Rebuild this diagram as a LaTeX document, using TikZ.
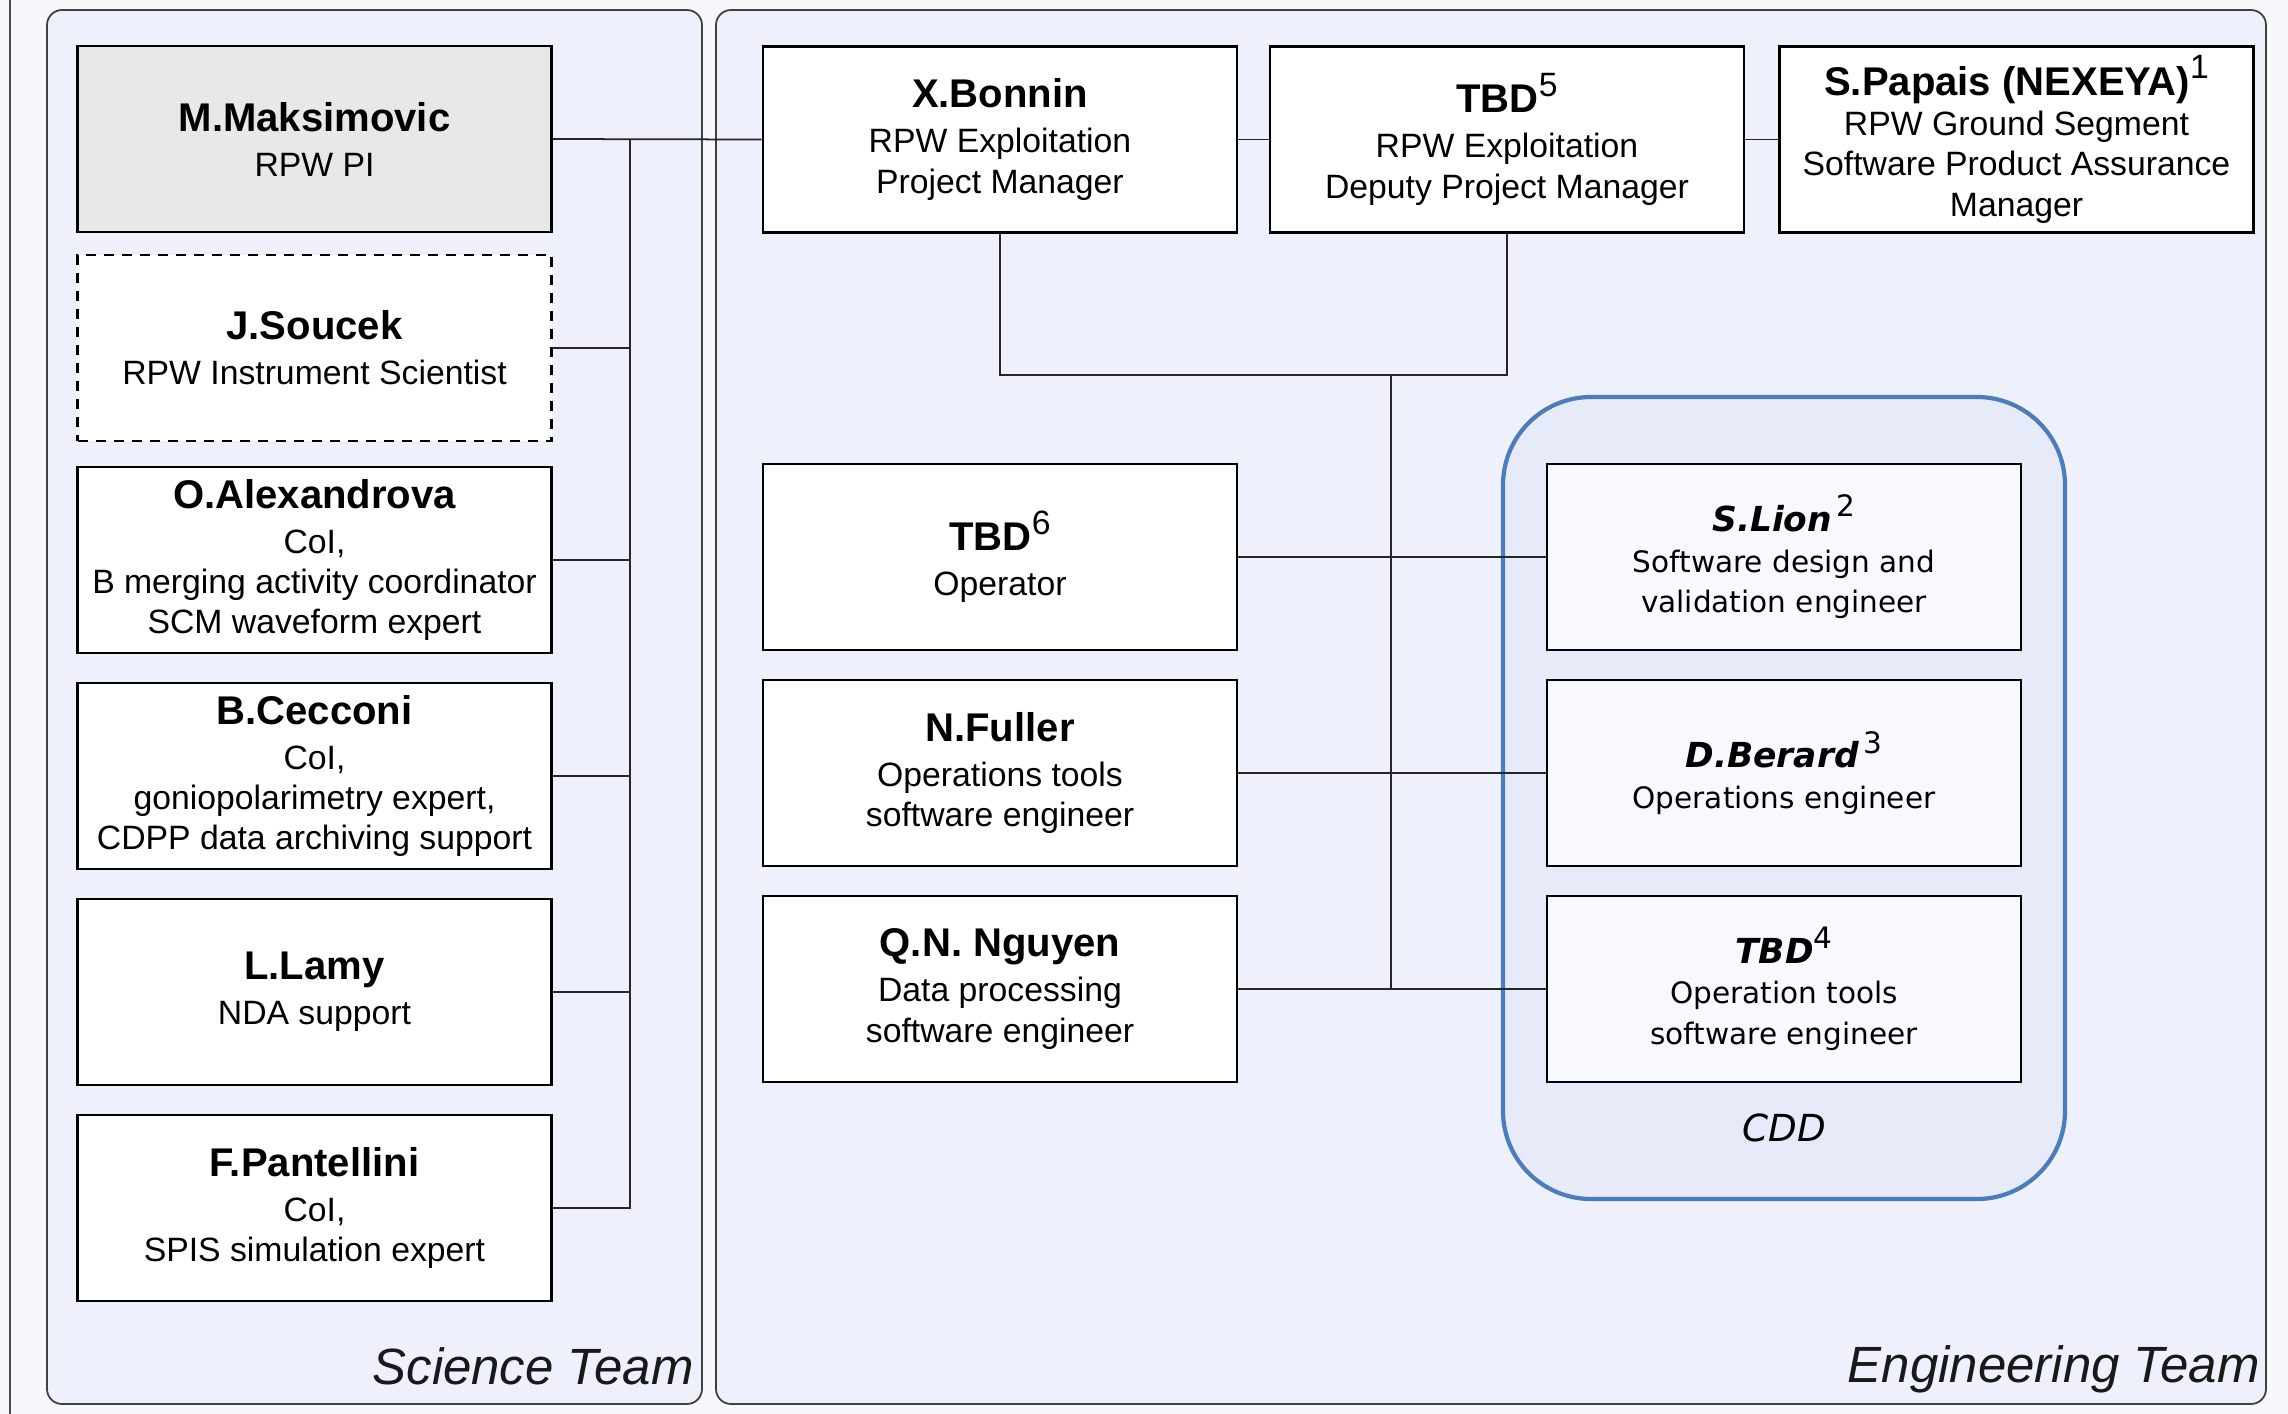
\documentclass[tikz,border=0pt]{standalone}
\usepackage{fontspec}
\setmainfont{Liberation Sans}
\newfontfamily\cddfont{DejaVu Sans}
\definecolor{pagebg}{RGB}{247,248,252}
\definecolor{panelbg}{RGB}{238,240,252}
\definecolor{cddbg}{RGB}{230,234,249}
\definecolor{cddline}{RGB}{74,126,187}
\definecolor{cddbox}{RGB}{248,249,254}
\definecolor{pibox}{RGB}{232,232,232}
\newcommand{\pname}[1]{{\fontsize{11.4}{13}\selectfont\bfseries #1}}
\newcommand{\cname}[1]{{\fontsize{9.8}{12}\selectfont\bfseries\itshape #1}}
\newcommand{\upnum}[1]{\raisebox{0.9ex}{\fontseries{m}\fontshape{n}\selectfont #1}}
\begin{document}
\begin{tikzpicture}[
  conn/.style={line width=0.5pt, draw=black!85},
  person/.style={draw, line width=0.8pt, fill=white, minimum width=4.74cm, minimum height=1.86cm,
    align=center, inner sep=2pt, font=\fontsize{9.6}{11.5}\selectfont},
  cddperson/.style={person, fill=cddbox, font=\cddfont\fontsize{8.4}{11.6}\selectfont},
  team/.style={draw=black!75, line width=0.5pt, fill=panelbg, rounded corners=0.15cm},
  teamlabel/.style={anchor=base east, font=\fontsize{14.5}{16}\selectfont\itshape, text=black!90}]

\useasboundingbox (0,0) rectangle (22.88,-14.14);
\fill[pagebg] (0,0) rectangle (22.88,-14.14);
\draw[black!70, line width=0.5pt] (0.10,0) -- (0.10,-14.14);

\draw[team] (0.47,-0.10) rectangle (7.02,-14.04);
\draw[team] (7.16,-0.10) rectangle (22.66,-14.04);
\node[teamlabel] (scilabel) at (7.06,-13.84) {Science Team};
\node[teamlabel] (englabel) at (22.72,-13.82) {Engineering Team};

\draw[draw=cddline, line width=1.2pt, fill=cddbg, rounded corners=0.88cm] (15.03,-3.97) rectangle (20.65,-11.99);
\node[font=\cddfont\fontsize{10.6}{12}\selectfont\itshape] (cddlabel) at (17.84,-11.28) {CDD};

\node[person, fill=pibox] (mm) at (3.145,-1.39) {\pname{M.Maksimovic}\\[1.3pt] RPW PI};
\node[person, dashed, dash pattern=on 1mm off 0.8mm] (js) at (3.145,-3.48) {\pname{J.Soucek}\\[1.3pt] RPW Instrument Scientist};
\node[person] (oa) at (3.145,-5.60) {\pname{O.Alexandrova}\\[1.3pt] CoI,\\ B merging activity coordinator\\ SCM waveform expert};
\node[person] (bc) at (3.145,-7.76) {\pname{B.Cecconi}\\[1.3pt] CoI,\\ goniopolarimetry expert,\\ CDPP data archiving support};
\node[person] (ll) at (3.145,-9.92) {\pname{L.Lamy}\\[1.3pt] NDA support};
\node[person] (fp) at (3.145,-12.08) {\pname{F.Pantellini}\\[1.3pt] CoI,\\ SPIS simulation expert};

\node[person] (xb) at (10.00,-1.395) {\pname{X.Bonnin}\\[1.3pt] RPW Exploitation\\ Project Manager};
\node[person] (t5) at (15.07,-1.395) {\pname{TBD}\upnum{5}\\[1.3pt] RPW Exploitation\\ Deputy Project Manager};
\node[person] (sp) at (20.165,-1.395) {\pname{S.Papais (NEXEYA)}\upnum{1}\\ RPW Ground Segment\\ Software Product Assurance\\ Manager};

\node[person] (t6) at (10.00,-5.57) {\pname{TBD}\upnum{6}\\[1.3pt] Operator};
\node[person] (nf) at (10.00,-7.73) {\pname{N.Fuller}\\[1.3pt] Operations tools\\ software engineer};
\node[person] (qn) at (10.00,-9.89) {\pname{Q.N. Nguyen}\\[1.3pt] Data processing\\ software engineer};

\node[cddperson] (sl) at (17.84,-5.57) {\cname{S.Lion}\,\upnum{2}\\ Software design and\\ validation engineer};
\node[cddperson] (db) at (17.84,-7.73) {\cname{D.Berard}\,\upnum{3}\\ Operations engineer};
\node[cddperson] (t4) at (17.84,-9.89) {\cname{TBD}\upnum{4}\\ Operation tools\\ software engineer};

\coordinate (spine) at (6.30,0);
\coordinate (jn) at (13.91,-3.75);

\draw[conn] (mm.east) -- (xb.west);
\draw[conn] (mm.east -| spine) |- (fp.east);
\draw[conn] (js.east) -- (js.east -| spine);
\draw[conn] (oa.east) -- (oa.east -| spine);
\draw[conn] (bc.east) -- (bc.east -| spine);
\draw[conn] (ll.east) -- (ll.east -| spine);

\draw[conn] (xb) -- (t5);
\draw[conn] (t5) -- (sp);
\draw[conn] (xb.south) |- (jn) -| (t5.south);
\draw[conn] (jn) -- (jn |- qn.east);
\draw[conn] (t6) -- (sl);
\draw[conn] (nf) -- (db);
\draw[conn] (qn) -- (t4);
\end{tikzpicture}
\end{document}
